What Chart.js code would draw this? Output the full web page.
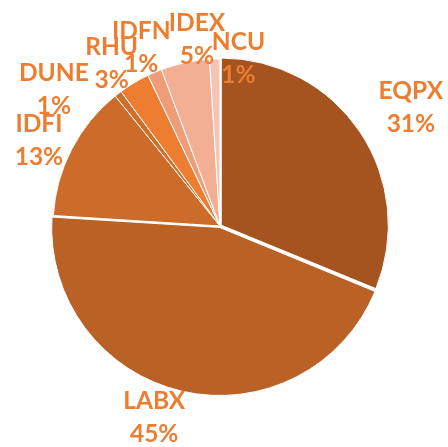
<!DOCTYPE html>
<html>
<head>
<meta charset="utf-8">
<script src="https://cdn.jsdelivr.net/npm/chart.js@4"></script>
<style>
  html, body { margin: 0; padding: 0; background: #ffffff; }
  #wrap { width: 448px; height: 447px; position: relative; }
</style>
</head>
<body>
<div id="wrap"><canvas id="c" width="448" height="447"></canvas></div>
<script>
// ---- data ----
const categories = ['EQPX', 'LABX', 'IDFI', 'DUNE', 'RHU', 'IDFN', 'IDEX', 'NCU'];
const shares = [31.2, 44.8, 13.2, 0.7, 3.0, 1.4, 4.7, 1.0];

// ---- styling ----
const sliceColors = ['#A5531F', '#BA6225', '#CD6C2A', '#D06E2C', '#ED7D31', '#EF9C78', '#F2AF94', '#F4C4B4'];
const explode = [6, 6, 0, 0, 0, 0, 0, 0];
// label placement: angle shift (deg) from slice mid-angle, distance as factor of radius
const labelAngleShift = [2.1, 6, -2.2, -12.9, -2.8, -0.8, 5, 8.1];
const labelRadius = [1.344, 1.213, 1.198, 1.289, 1.168, 1.166, 1.122, 1.006];

const labelPlugin = {
  id: 'outLabels',
  afterDatasetsDraw(chart) {
    const ctx = chart.ctx;
    const meta = chart.getDatasetMeta(0);
    const ds = chart.data.datasets[0].data;
    const total = ds.reduce((a, b) => a + b, 0);
    ctx.save();
    ctx.fillStyle = '#ED7D31';
    ctx.font = 'bold 24.5px Lato, "Open Sans", sans-serif';
    ctx.textAlign = 'center';
    ctx.textBaseline = 'middle';
    meta.data.forEach((arc, i) => {
      const mid = (arc.startAngle + arc.endAngle) / 2 + labelAngleShift[i] * Math.PI / 180;
      const d = arc.outerRadius * labelRadius[i];
      const x = arc.x + Math.cos(mid) * d;
      const y = arc.y + Math.sin(mid) * d;
      const pct = Math.round(ds[i] / total * 100) + '%';
      ctx.fillText(chart.data.labels[i], x, y - 16.5);
      ctx.fillText(pct, x, y + 16.5);
    });
    ctx.restore();
  }
};

new Chart(document.getElementById('c'), {
  type: 'pie',
  data: {
    labels: categories,
    datasets: [{
      data: shares,
      backgroundColor: sliceColors,
      borderColor: '#ffffff',
      borderWidth: 1,
      offset: explode,
      hoverOffset: 0
    }]
  },
  options: {
    responsive: false,
    animation: false,
    radius: 167,
    layout: { padding: { left: 0, right: 8, top: 5, bottom: 0 } },
    plugins: {
      legend: { display: false },
      tooltip: { enabled: false }
    }
  },
  plugins: [labelPlugin]
});
</script>
</body>
</html>
